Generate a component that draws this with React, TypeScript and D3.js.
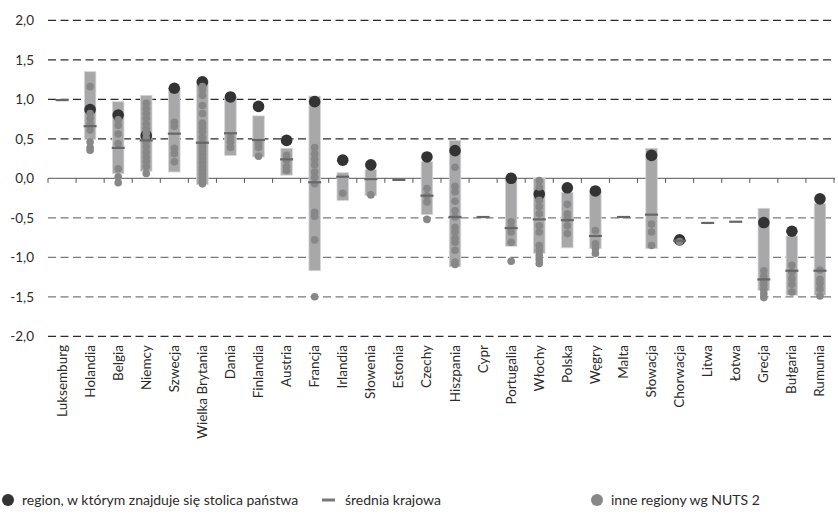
import React, { useEffect, useRef } from 'react';
import * as d3 from 'd3';

// Countries in chart order
const countries = [
  'Luksemburg', 'Holandia', 'Belgia', 'Niemcy', 'Szwecja', 'Wielka Brytania', 'Dania',
  'Finlandia', 'Austria', 'Francja', 'Irlandia', 'Słowenia', 'Estonia', 'Czechy',
  'Hiszpania', 'Cypr', 'Portugalia', 'Włochy', 'Polska', 'Węgry', 'Malta', 'Słowacja',
  'Chorwacja', 'Litwa', 'Łotwa', 'Grecja', 'Bułgaria', 'Rumunia'
];

// capital region value (null = country has a single region)
const capitalValues: (number | null)[] = [
  null, 0.87, 0.80, 0.54, 1.14, 1.22, 1.03, 0.91, 0.48, 0.97, 0.23, 0.17, null, 0.27,
  0.35, null, 0.0, -0.20, -0.12, -0.16, null, 0.29, -0.78, null, null, -0.56, -0.67, -0.26
];

// national mean
const meanValues = [
  0.99, 0.66, 0.385, 0.48, 0.565, 0.45, 0.57, 0.485, 0.24, -0.05, 0.02, -0.01, -0.02, -0.22,
  -0.49, -0.49, -0.63, -0.52, -0.53, -0.73, -0.49, -0.46, -0.79, -0.565, -0.55, -1.28, -1.17, -1.17
];

// range bars [max, min]
const rangeValues: ([number, number] | null)[] = [
  null, [1.35, 0.49], [0.97, 0.06], [1.05, 0.09], [1.14, 0.08], [1.24, -0.08], [1.03, 0.29],
  [0.79, 0.27], [0.38, 0.04], [1.04, -1.17], [0.07, -0.28], [0.11, -0.22], null, [0.21, -0.46],
  [0.48, -1.12], null, [0.0, -0.86], [0.0, -0.95], [-0.18, -0.88], [-0.17, -0.89], null,
  [0.38, -0.89], null, null, null, [-0.38, -1.42], [-0.73, -1.48], [-0.32, -1.48]
];

// other NUTS 2 regions
const otherValues: number[][] = [
  [],
  [1.16, 0.82, 0.76, 0.69, 0.61, 0.46, 0.39, 0.355],
  [0.74, 0.67, 0.56, 0.44, 0.12, 0.02, -0.055],
  [0.95, 0.88, 0.82, 0.76, 0.69, 0.63, 0.57, 0.51, 0.46, 0.40, 0.33, 0.27, 0.21, 0.15, 0.06],
  [0.71, 0.66, 0.38, 0.31, 0.21],
  [1.16, 1.12, 1.05, 0.92, 0.82, 0.70, 0.65, 0.59, 0.52, 0.45, 0.40, 0.35, 0.30, 0.25, 0.20, 0.15, 0.10, 0.05, 0.0, -0.04, -0.07],
  [0.52, 0.46, 0.39],
  [0.44, 0.39, 0.28],
  [0.29, 0.23, 0.15, 0.10],
  [0.39, 0.31, 0.24, 0.17, 0.08, 0.01, -0.07, -0.43, -0.48, -0.78, -1.50],
  [-0.19],
  [-0.21],
  [],
  [-0.13, -0.22, -0.30, -0.52],
  [0.14, -0.10, -0.17, -0.29, -0.41, -0.49, -0.62, -0.68, -0.76, -0.81, -0.91, -1.06, -1.09],
  [],
  [-0.55, -0.62, -0.68, -0.81, -1.05],
  [-0.03, -0.11, -0.28, -0.36, -0.45, -0.60, -0.68, -0.85, -0.91, -0.97, -1.03, -1.08],
  [-0.33, -0.45, -0.51, -0.60, -0.70],
  [-0.66, -0.83, -0.89, -0.95],
  [],
  [-0.58, -0.68, -0.85],
  [-0.80],
  [],
  [],
  [-1.17, -1.24, -1.30, -1.35, -1.41, -1.46, -1.51],
  [-1.10, -1.19, -1.27, -1.34, -1.44],
  [-1.16, -1.28, -1.33, -1.40, -1.49]
];

const yTicks = [2, 1.5, 1, 0.5, 0, -0.5, -1, -1.5, -2];

const legendItems = [
  { label: 'region, w którym znajduje się stolica państwa', kind: 'capital' },
  { label: 'średnia krajowa', kind: 'mean' },
  { label: 'inne regiony wg NUTS 2', kind: 'other' }
];

const width = 838;
const height = 515;
const FONT = 'Lato, "Noto Sans", sans-serif';

const App: React.FC = () => {
  const svgRef = useRef<SVGSVGElement>(null);

  useEffect(() => {
    const svg = d3.select(svgRef.current);
    svg.selectAll('*').remove();

    const x = d3.scaleBand<string>().domain(countries).range([48, 834]).padding(0);
    const y = d3.scaleLinear().domain([-2, 2]).range([336.3, 20.3]);
    const cx = (i: number) => (x(countries[i]) || 0) + x.bandwidth() / 2;
    const fmt = (d: number) => d.toFixed(1).replace('.', ',');

    // grid lines
    svg.append('g')
      .selectAll('line')
      .data(yTicks.filter(d => d !== 0))
      .enter()
      .append('line')
      .attr('x1', 48)
      .attr('x2', 835)
      .attr('y1', d => y(d))
      .attr('y2', d => y(d))
      .style('stroke', d => (d > 0 || d === -2 ? '#2b2b2b' : '#7a7a7a'))
      .style('stroke-width', '1.3px')
      .style('stroke-dasharray', '8 4.5');

    // y labels
    svg.append('g')
      .selectAll('text')
      .data(yTicks)
      .enter()
      .append('text')
      .attr('x', 34)
      .attr('y', d => y(d))
      .attr('dy', '0.35em')
      .attr('text-anchor', 'end')
      .style('font-family', FONT)
      .style('font-size', '13.5px')
      .style('fill', '#2b2b2b')
      .text(fmt);

    // zero axis with ticks
    svg.append('line')
      .attr('x1', 48).attr('x2', 835)
      .attr('y1', y(0)).attr('y2', y(0))
      .style('stroke', '#777')
      .style('stroke-width', '1.3px');

    const boundaries = d3.range(countries.length + 1).map(i => 48 + i * x.step());
    svg.append('g')
      .selectAll('line')
      .data(boundaries)
      .enter()
      .append('line')
      .attr('x1', d => d).attr('x2', d => d)
      .attr('y1', y(0)).attr('y2', y(0) + 4.5)
      .style('stroke', '#555')
      .style('stroke-width', '1px');

    // range bars
    const barW = 11.5;
    svg.append('g')
      .selectAll('rect')
      .data(rangeValues.map((r, i) => ({ r, i })).filter(d => d.r !== null))
      .enter()
      .append('rect')
      .attr('x', d => cx(d.i) - barW / 2)
      .attr('width', barW)
      .attr('y', d => y((d.r as [number, number])[0]))
      .attr('height', d => y((d.r as [number, number])[1]) - y((d.r as [number, number])[0]))
      .style('fill', '#a8a8aa')
      .style('stroke', '#d6d6d6')
      .style('stroke-width', '0.8px');

    // capital regions
    svg.append('g')
      .selectAll('circle')
      .data(capitalValues.map((v, i) => ({ v, i })).filter(d => d.v !== null))
      .enter()
      .append('circle')
      .attr('cx', d => cx(d.i))
      .attr('cy', d => y(d.v as number))
      .attr('r', 5.8)
      .style('fill', '#333333');

    // other regions
    const others = otherValues.flatMap((vals, i) => vals.map(v => ({ v, i })));
    svg.append('g')
      .selectAll('circle')
      .data(others)
      .enter()
      .append('circle')
      .attr('cx', d => cx(d.i))
      .attr('cy', d => y(d.v))
      .attr('r', 3.8)
      .style('fill', '#878787');

    // national means
    svg.append('g')
      .selectAll('line')
      .data(meanValues.map((v, i) => ({ v, i })))
      .enter()
      .append('line')
      .attr('x1', d => cx(d.i) - 6.5)
      .attr('x2', d => cx(d.i) + 6.5)
      .attr('y1', d => y(d.v))
      .attr('y2', d => y(d.v))
      .style('stroke', '#666')
      .style('stroke-width', '2.2px');

    // category labels
    svg.append('g')
      .selectAll('text')
      .data(countries)
      .enter()
      .append('text')
      .attr('transform', d => `translate(${(x(d) || 0) + x.bandwidth() / 2 + 4.5}, 345) rotate(-90)`)
      .attr('text-anchor', 'end')
      .style('font-family', FONT)
      .style('font-size', '13.5px')
      .style('fill', '#2b2b2b')
      .text(d => d);

    // legend
    const legend = svg.append('g').attr('transform', 'translate(0, 500)');
    const legendX = [8, 322, 597];
    legendItems.forEach((item, i) => {
      const g = legend.append('g').attr('transform', `translate(${legendX[i]}, 0)`);
      if (item.kind === 'capital') {
        g.append('circle').attr('cx', 0).attr('cy', 0).attr('r', 6).style('fill', '#333');
      } else if (item.kind === 'mean') {
        g.append('line').attr('x1', 0).attr('x2', 13).attr('y1', 0).attr('y2', 0)
          .style('stroke', '#777').style('stroke-width', '3px');
      } else {
        g.append('circle').attr('cx', 0).attr('cy', 0).attr('r', 6).style('fill', '#878787');
      }
      g.append('text')
        .attr('x', item.kind === 'mean' ? 23 : 14)
        .attr('y', 0)
        .attr('dy', '0.35em')
        .style('font-family', FONT)
        .style('font-size', '14px')
        .style('fill', '#2b2b2b')
        .text(item.label);
    });
  }, []);

  return (
    <svg
      ref={svgRef}
      width={width}
      height={height}
      style={{ position: 'absolute', left: 0, top: 0, background: '#fff' }}
    />
  );
};

export default App;
